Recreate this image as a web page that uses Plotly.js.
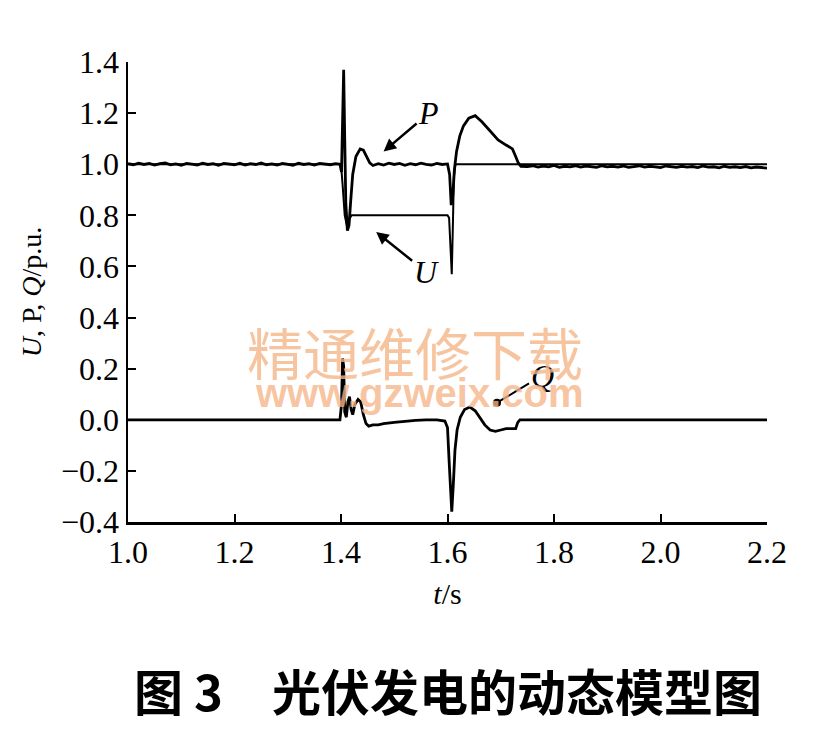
<!DOCTYPE html>
<html>
<head>
<meta charset="utf-8">
<script src="https://cdn.plot.ly/plotly-3.0.1.min.js"></script>
<style>html,body{margin:0;padding:0;background:#fff;}#chart{width:831px;height:733px;}</style>
</head>
<body>
<div id="chart"></div>
<script>
// ---- data ----
const tP = [1.00,1.01,1.02,1.03,1.04,1.05,1.06,1.07,1.08,1.09,1.10,1.11,1.12,1.13,1.14,1.15,1.16,1.17,1.18,1.19,
  1.20,1.21,1.22,1.23,1.24,1.25,1.26,1.27,1.28,1.29,1.30,1.31,1.32,1.33,1.34,1.35,1.36,1.37,1.38,1.39,
  1.398,1.401,1.403,1.405,1.407,1.409,1.412,1.415,1.418,1.422,1.428,1.436,1.442,1.448,1.454,1.46,
  1.47,1.48,1.49,1.50,1.51,1.52,1.53,1.54,1.55,1.56,1.57,1.58,1.59,1.60,
  1.604,1.607,1.610,1.613,1.617,1.623,1.63,1.64,1.652,1.665,1.68,1.695,1.71,1.722,1.728,1.733,1.738,
  1.75,1.76,1.77,1.78,1.79,1.80,1.81,1.82,1.83,1.84,1.85,1.86,1.87,1.88,1.89,1.90,1.91,1.92,1.93,1.94,
  1.95,1.96,1.97,1.98,1.99,2.00,2.01,2.02,2.03,2.04,2.05,2.06,2.07,2.08,2.09,2.10,2.11,2.12,2.13,2.14,
  2.15,2.16,2.17,2.18,2.19,2.20];
const P = [1.002,0.998,1.004,0.999,1.003,0.997,1.002,1.005,0.998,1.001,0.996,1.003,1.000,0.997,1.004,0.999,1.002,0.996,1.003,1.001,
  0.998,1.004,0.997,1.002,0.999,1.005,0.998,1.001,0.997,1.003,1.000,0.996,1.004,0.999,1.002,0.997,1.003,1.000,0.998,1.002,
  1.000,0.970,1.200,1.370,1.100,0.850,0.740,0.760,0.850,0.960,1.030,1.060,1.055,1.030,1.005,0.995,
  1.002,0.997,1.004,0.999,1.003,0.996,1.002,0.998,1.004,0.999,0.997,1.003,0.999,1.001,
  0.960,0.840,0.880,0.980,1.050,1.110,1.150,1.180,1.190,1.165,1.130,1.095,1.075,1.060,1.030,1.005,0.992,
  0.991,0.994,0.989,0.993,0.990,0.995,0.988,0.992,0.990,0.994,0.989,0.993,0.991,0.988,0.994,0.990,0.992,0.989,0.993,0.988,
  0.991,0.994,0.989,0.992,0.990,0.987,0.993,0.990,0.988,0.992,0.989,0.991,0.987,0.993,0.989,0.990,0.986,0.992,0.988,0.990,
  0.987,0.991,0.986,0.989,0.988,0.985];

const tU = [1.00,1.400,1.403,1.407,1.411,1.414,1.420,1.600,1.603,1.606,1.608,1.610,1.612,1.615,2.20];
const U  = [1.00,1.000,0.920,0.800,0.760,0.780,0.800,0.800,0.790,0.650,0.570,0.750,0.950,1.000,1.00];

const tQ = [1.0,1.398,1.401,1.403,1.405,1.407,1.410,1.413,1.416,1.419,1.422,1.426,1.432,1.437,1.442,1.447,1.452,1.46,1.47,1.48,
  1.50,1.52,1.54,1.56,1.58,1.595,1.60,1.603,1.606,1.608,1.611,1.614,1.618,1.624,1.632,1.642,1.652,1.66,1.67,1.68,
  1.69,1.70,1.71,1.72,1.728,1.732,1.736,1.75,2.2];
const Q = [0,0,0.06,0.24,0.21,0.03,0.01,0.07,0.09,0.04,0.02,0.06,0.08,0.07,0.02,-0.015,-0.025,-0.02,-0.02,-0.015,
  -0.01,-0.005,-0.002,0,0,-0.005,-0.03,-0.16,-0.32,-0.36,-0.25,-0.12,-0.04,0.01,0.04,0.05,0.035,0.01,-0.02,-0.04,
  -0.045,-0.04,-0.035,-0.035,-0.035,-0.01,0,0,0];

const xTicks = [1.0,1.2,1.4,1.6,1.8,2.0,2.2];
const yTicks = [-0.4,-0.2,0.0,0.2,0.4,0.6,0.8,1.0,1.2,1.4];

const seriesNames = ['P','U','Q'];
const xTitle = '<i>t</i>/s';
const yTitle = '<i>U</i>, P, <i>Q</i>/p.u.';
const caption = '<b>图 3　光伏发电的动态模型图</b>';
const watermark1 = '精通维修下载';
const watermark2 = '<b>www.gzweix.com</b>';

// ---- chart ----
const serif = 'Liberation Serif, Times New Roman, serif';
const traces = [
  {x: tU, y: U, name: seriesNames[1], mode: 'lines', line: {color: '#000', width: 2}},
  {x: tP, y: P, name: seriesNames[0], mode: 'lines', line: {color: '#000', width: 2.8}},
  {x: tQ, y: Q, name: seriesNames[2], mode: 'lines', line: {color: '#000', width: 2.8}}
];

const wm = 'rgba(245,181,136,0.8)';
const layout = {
  width: 831, height: 733,
  margin: {l: 128, r: 64, t: 62, b: 211},
  paper_bgcolor: '#fff', plot_bgcolor: '#fff',
  showlegend: false,
  font: {family: serif, color: '#000'},
  xaxis: {
    range: [1.0, 2.2], tickvals: xTicks, tickformat: '.1f',
    showline: true, linewidth: 2.5, linecolor: '#000', mirror: false,
    ticks: 'inside', ticklen: 8, tickwidth: 2, tickcolor: '#000',
    showgrid: false, zeroline: false,
    tickfont: {family: serif, size: 32, color: '#000'},
    title: {text: xTitle, font: {family: serif, size: 30, color: '#000'}, standoff: 14}
  },
  yaxis: {
    range: [-0.4, 1.4], tickvals: yTicks, tickformat: '.1f',
    showline: true, linewidth: 2.5, linecolor: '#000', mirror: false,
    ticks: 'inside', ticklen: 8, tickwidth: 2, tickcolor: '#000',
    showgrid: false, zeroline: false,
    tickfont: {family: serif, size: 32, color: '#000'},
    title: {text: yTitle, font: {family: serif, size: 28, color: '#000'}, standoff: 12}
  },
  annotations: [
    {x: 1.48, y: 1.05, xref: 'x', yref: 'y', text: '<i>P</i>', ax: 45, ay: -38,
     showarrow: true, arrowhead: 2, arrowsize: 1, arrowwidth: 2.5, arrowcolor: '#000', standoff: 0,
     font: {family: serif, size: 32, color: '#000'}},
    {x: 1.466, y: 0.735, xref: 'x', yref: 'y', text: '<i>U</i>', ax: 50, ay: 40,
     showarrow: true, arrowhead: 2, arrowsize: 1, arrowwidth: 2.5, arrowcolor: '#000', standoff: 0,
     font: {family: serif, size: 32, color: '#000'}},
    {x: 1.693, y: 0.067, xref: 'x', yref: 'y', text: '<i>Q</i>', ax: 45, ay: -27,
     showarrow: true, arrowhead: 6, arrowsize: 1, arrowwidth: 2, arrowcolor: '#000', standoff: 0,
     font: {family: serif, size: 32, color: '#000'}},
    {x: 0.449, y: 0.372, xref: 'paper', yref: 'paper', xanchor: 'center', yanchor: 'middle',
     text: watermark1, showarrow: false,
     font: {family: 'Noto Sans CJK SC, sans-serif', size: 56, color: wm}},
    {x: 0.455, y: 0.28, xref: 'paper', yref: 'paper', xanchor: 'center', yanchor: 'middle',
     text: watermark2, showarrow: false,
     font: {family: 'Liberation Sans, Arial, sans-serif', size: 40, color: wm}},
    {x: 0.5, y: -0.365, xref: 'paper', yref: 'paper', xanchor: 'center', yanchor: 'middle',
     text: caption, showarrow: false,
     font: {family: 'Noto Sans CJK SC, sans-serif', size: 49, color: '#000'}}
  ]
};

Plotly.newPlot('chart', traces, layout, {displayModeBar: false, staticPlot: true});
</script>
</body>
</html>
